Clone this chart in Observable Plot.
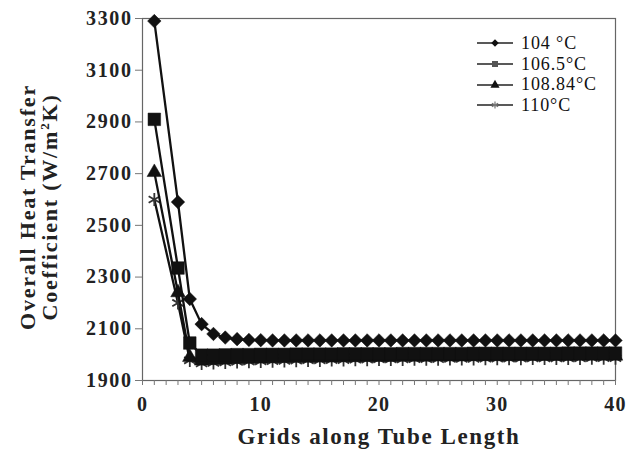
<!DOCTYPE html>
<html>
<head>
<meta charset="utf-8">
<script src="https://cdn.jsdelivr.net/npm/d3@7"></script>
<script src="https://cdn.jsdelivr.net/npm/@observablehq/plot@0.6"></script>
<style>
  html, body { margin: 0; padding: 0; background: #fff; }
  #wrap { position: relative; width: 626px; height: 452px; overflow: hidden; }
  #legend { position: absolute; left: 475px; top: 33px; font-family: "Liberation Serif", "Times New Roman", serif; font-size: 18px; letter-spacing: 0.9px; color: #111; }
  #legend .row { display: flex; align-items: center; height: 20.7px; }
  #legend svg { margin-right: 6px; }
  #ytitle { position: absolute; left: 39px; top: 207px; transform: translate(-50%, -50%) rotate(-90deg); font-family: "Liberation Serif", "Times New Roman", serif; font-weight: bold; font-size: 22px; letter-spacing: 1.8px; line-height: 22px; text-align: center; white-space: nowrap; color: #222; }
  g[aria-label="y-axis tick label"] text { letter-spacing: 1.6px; }
  g[aria-label="x-axis tick label"] text { letter-spacing: 1.2px; }
</style>
</head>
<body>
<div id="wrap"></div>
<script>
// Data
const grids = [1, 3, 4, 5, 6, 7, 8, 9, 10, 11, 12, 13, 14, 15, 16, 17, 18, 19, 20, 21, 22, 23, 24, 25, 26, 27, 28, 29, 30, 31, 32, 33, 34, 35, 36, 37, 38, 39, 40];
const u104 = [3290, 2590, 2215, 2118, 2080, 2066, 2060, 2057, 2056, 2055, 2055, 2055, 2055, 2055, 2055, 2055, 2055, 2055, 2055, 2055, 2055, 2055, 2055, 2055, 2055, 2055, 2055, 2055, 2055, 2055, 2055, 2055, 2055, 2055, 2055, 2055, 2055, 2055, 2055];
const u1065 = [2910, 2335, 2045, 1998, 1998, 1999, 2000, 2000, 2001, 2001, 2001, 2002, 2002, 2002, 2002, 2003, 2003, 2003, 2003, 2003, 2004, 2004, 2004, 2004, 2004, 2004, 2005, 2005, 2005, 2005, 2005, 2005, 2005, 2005, 2006, 2006, 2006, 2006, 2006];
const u10884 = [2705, 2240, 1990, 1976, 1978, 1980, 1982, 1983, 1984, 1985, 1986, 1987, 1987, 1988, 1988, 1989, 1989, 1990, 1990, 1990, 1991, 1991, 1991, 1992, 1992, 1992, 1993, 1993, 1993, 1993, 1994, 1994, 1994, 1994, 1994, 1995, 1995, 1995, 1995];
const u110 = [2600, 2200, 1978, 1966, 1968, 1970, 1972, 1973, 1974, 1975, 1976, 1977, 1978, 1978, 1979, 1979, 1980, 1980, 1981, 1981, 1981, 1982, 1982, 1982, 1983, 1983, 1983, 1984, 1984, 1984, 1984, 1985, 1985, 1985, 1985, 1985, 1986, 1986, 1986];
const seriesNames = ["104 °C", "106.5°C", "108.84°C", "110°C"];
const seriesValues = [u104, u1065, u10884, u110];
const seriesSymbols = ["diamond2", "square", "triangle", "asterisk"];
const xTickLabels = [0, 10, 20, 30, 40];
const yTickLabels = [1900, 2100, 2300, 2500, 2700, 2900, 3100, 3300];
const xMinorTicks = [0,1,2,3,4,5,6,7,8,9,10,11,12,13,14,15,16,17,18,19,20,21,22,23,24,25,26,27,28,29,30,31,32,33,34,35,36,37,38,39,40];
const xTitle = "Grids along Tube Length";

const rows = [];
seriesNames.forEach((name, si) => {
  grids.forEach((g, i) => rows.push({series: name, grid: g, u: seriesValues[si][i]}));
});

const font = '"Liberation Serif", "Times New Roman", serif';
const symR = {"diamond2": 6.1, "square": 7.1, "triangle": 5.4, "asterisk": 6.2};

const marks = [
  Plot.frame({stroke: "#666", strokeWidth: 1.2}),
  Plot.axisX({ticks: xMinorTicks, tickSize: 5, tickFormat: () => "", stroke: "#777", label: null}),
  Plot.axisX({ticks: xTickLabels, tickSize: 0, tickPadding: 16, tickFormat: d => String(d), fontSize: 20, fontWeight: "bold", fill: "#222", label: null}),
  Plot.axisY({ticks: yTickLabels, tickSize: 7, tickPadding: 3, tickFormat: d => String(d), fontSize: 20, fontWeight: "bold", fill: "#222", stroke: "#777", label: null})
];
seriesNames.slice().reverse().forEach((name, k) => {
  const si = seriesNames.length - 1 - k;
  const data = rows.filter(d => d.series === name);
  marks.push(Plot.line(data, {x: "grid", y: "u", stroke: "#111", strokeWidth: 2.3}));
  const sym = seriesSymbols[si];
  if (sym === "asterisk") {
    marks.push(Plot.dot(data, {x: "grid", y: "u", symbol: sym, r: symR[sym], stroke: "#333", strokeWidth: 1.8}));
  } else {
    marks.push(Plot.dot(data, {x: "grid", y: "u", symbol: sym, r: symR[sym], fill: "#111", stroke: "#111", strokeWidth: 0.5}));
  }
});

const chart = Plot.plot({
  width: 626,
  height: 452,
  marginLeft: 142,
  marginRight: 11,
  marginTop: 18,
  marginBottom: 72,
  style: {fontFamily: font, background: "#fff", color: "#222"},
  x: {domain: [0, 40], axis: null},
  y: {domain: [1900, 3300], axis: null},
  marks: [
    ...marks,
    Plot.text([xTitle], {frameAnchor: "bottom", dy: 63, fontSize: 23, fontWeight: "bold", fill: "#222", fontFamily: font})
  ]
});

const wrap = document.getElementById("wrap");
wrap.appendChild(chart);
// widen the x-axis title like the reference
d3.select(chart).selectAll("text").filter(function() { return this.textContent === xTitle; }).style("letter-spacing", "1.6px");

// y-axis title (two lines)
const yt = document.createElement("div");
yt.id = "ytitle";
yt.innerHTML = "Overall Heat Transfer<br>Coefficient (W/m<sup style='font-size:13px;line-height:0'>2</sup>K)";
wrap.appendChild(yt);

// legend
const legend = document.createElement("div");
legend.id = "legend";
const symMap = {"diamond2": d3.symbolDiamond2, "square": d3.symbolSquare, "triangle": d3.symbolTriangle, "asterisk": d3.symbolAsterisk};
seriesNames.forEach((name, si) => {
  const row = document.createElement("div");
  row.className = "row";
  const s = d3.create("svg").attr("width", 40).attr("height", 12);
  s.append("line").attr("x1", 2).attr("x2", 38).attr("y1", 6).attr("y2", 6).attr("stroke", "#222").attr("stroke-width", 1.3);
  const path = d3.symbol(symMap[seriesSymbols[si]], 36)();
  const p = s.append("path").attr("d", path).attr("transform", "translate(20,6)");
  if (seriesSymbols[si] === "asterisk") p.attr("fill", "none").attr("stroke", "#777").attr("stroke-width", 1.2);
  else p.attr("fill", seriesSymbols[si] === "square" ? "#555" : "#111");
  row.appendChild(s.node());
  const t = document.createElement("span");
  t.textContent = name;
  row.appendChild(t);
  legend.appendChild(row);
});
wrap.appendChild(legend);
</script>
</body>
</html>
